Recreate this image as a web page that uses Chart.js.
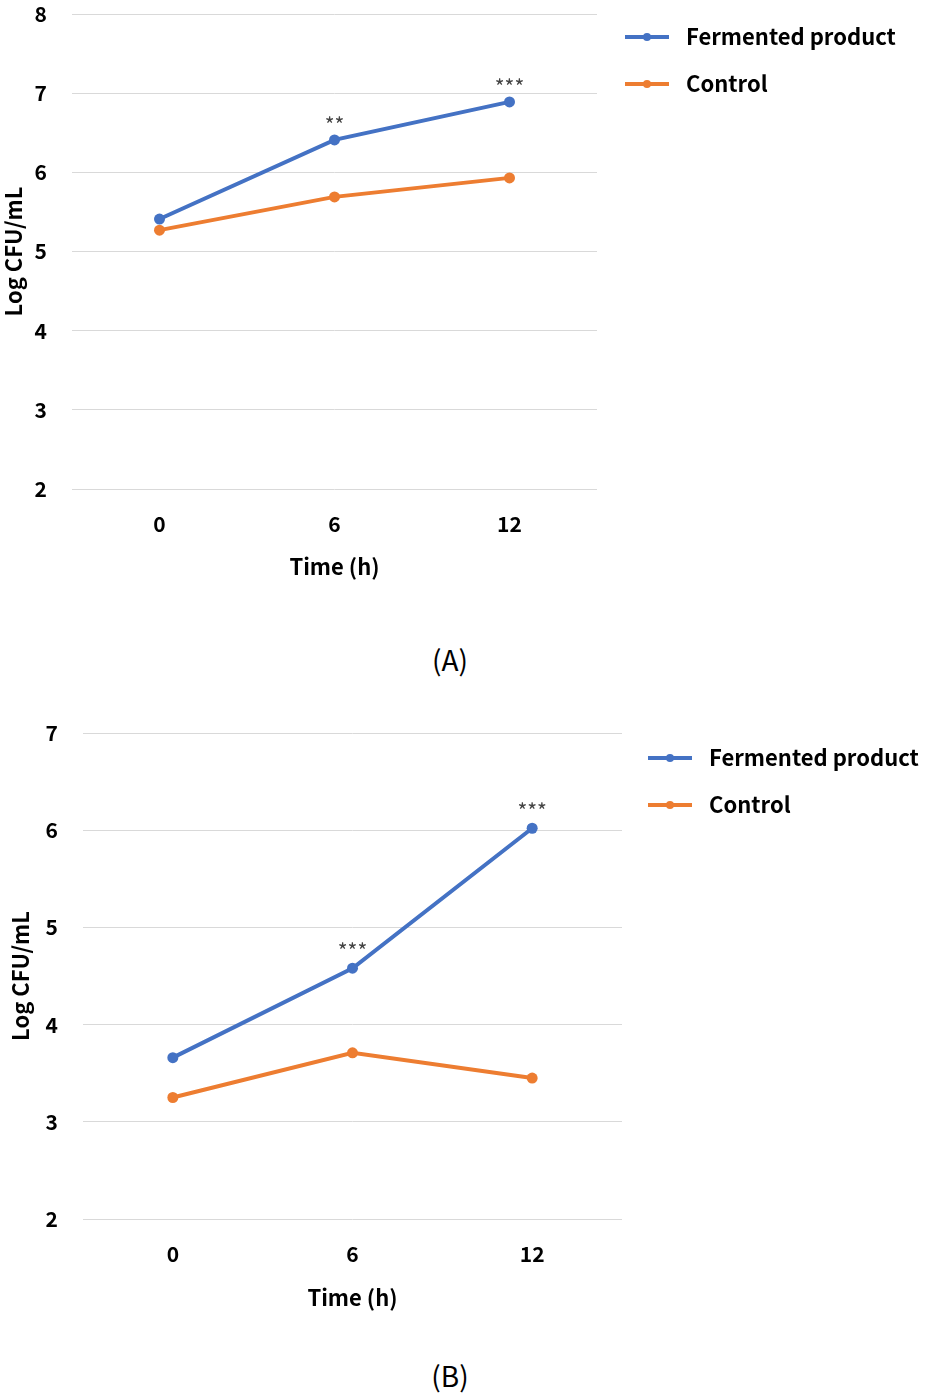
<!DOCTYPE html>
<html><head><meta charset="utf-8">
<script src="https://cdn.jsdelivr.net/npm/chart.js@4.4.1/dist/chart.umd.min.js"></script>
<style>
html,body{margin:0;padding:0;background:#fff;width:929px;height:1395px;overflow:hidden;}
.wrap{position:absolute;left:0;width:929px;}
.cap{position:absolute;left:0;width:900px;text-align:center;font:28px "Noto Sans CJK KR","Noto Sans",sans-serif;color:#000;line-height:34px;}
</style></head><body>
<div class="wrap" style="top:0;height:620px"><canvas id="cA" width="929" height="620"></canvas></div>
<div class="cap" style="top:642px">(A)</div>
<div class="wrap" style="top:700px;height:620px"><canvas id="cB" width="929" height="620"></canvas></div>
<div class="cap" style="top:1358px">(B)</div>
<script>
const timeLabels = ['0', '6', '12'];
const seriesNames = ['Fermented product', 'Control'];
const fermentedA = [5.41, 6.41, 6.89];
const controlA = [5.27, 5.69, 5.93];
const sigA = ['', '**', '***'];
const yRangeA = [2, 8];
const fermentedB = [3.66, 4.58, 6.02];
const controlB = [3.25, 3.71, 3.45];
const sigB = ['', '***', '***'];
const yRangeB = [2, 7];

const BLUE = '#4472C4', ORANGE = '#ED7D31';
const FONT = '"Noto Sans CJK KR", "Noto Sans", sans-serif';

const extras = {
  id: 'extras',
  afterDatasetsDraw(chart, args, opts) {
    const ctx = chart.ctx;
    ctx.save();
    const meta = chart.getDatasetMeta(0);
    ctx.font = '21px ' + FONT;
    ctx.fillStyle = '#444444';
    ctx.textAlign = 'center';
    ctx.textBaseline = 'middle';
    opts.sig.forEach((s, i) => {
      if (!s) return;
      const p = meta.data[i];
      ctx.fillText(s, p.x, p.y - opts.sigOffset);
    });
    chart.data.datasets.forEach((ds, i) => {
      const y = opts.legendY + i * opts.legendGap;
      const x = opts.legendX;
      ctx.strokeStyle = ds.borderColor;
      ctx.lineWidth = 4;
      ctx.beginPath(); ctx.moveTo(x, y); ctx.lineTo(x + 44, y); ctx.stroke();
      ctx.fillStyle = ds.borderColor;
      ctx.beginPath(); ctx.arc(x + 22, y, 4, 0, Math.PI * 2); ctx.fill();
      ctx.fillStyle = '#000';
      ctx.font = 'bold 22px ' + FONT;
      ctx.textAlign = 'left';
      ctx.fillText(ds.label, x + 61, y);
    });
    ctx.restore();
  }
};

function makeChart(id, f, c, sig, yr, geo) {
  return new Chart(document.getElementById(id), {
    type: 'line',
    data: {
      labels: timeLabels,
      datasets: [
        { label: seriesNames[0], data: f, borderColor: BLUE, backgroundColor: BLUE, borderWidth: 4, pointRadius: 5.5, pointBackgroundColor: BLUE, pointBorderWidth: 0, tension: 0 },
        { label: seriesNames[1], data: c, borderColor: ORANGE, backgroundColor: ORANGE, borderWidth: 4, pointRadius: 5.5, pointBackgroundColor: ORANGE, pointBorderWidth: 0, tension: 0 }
      ]
    },
    options: {
      responsive: false,
      animation: false,
      layout: { padding: { top: geo.top, right: 929 - geo.right, left: 0, bottom: 0 } },
      plugins: {
        legend: { display: false },
        tooltip: { enabled: false },
        extras: { sig: sig, sigOffset: geo.sigOffset, legendX: geo.legendX, legendY: geo.legendY, legendGap: 47 }
      },
      scales: {
        x: {
          type: 'category',
          offset: true,
          grid: { display: false, drawTicks: false },
          border: { display: false },
          ticks: { color: '#000', font: { family: FONT, size: 21, weight: 'bold' }, padding: 22 },
          title: { display: true, text: 'Time (h)', color: '#000', font: { family: FONT, size: 22, weight: 'bold' }, padding: { top: 0, bottom: geo.xTitlePad } },
          afterFit(s) { s.height = 620 - geo.bottom; }
        },
        y: {
          min: yr[0], max: yr[1],
          grid: { color: '#d9d9d9', lineWidth: 1, drawTicks: true, tickLength: geo.yTickPad, tickColor: 'rgba(0,0,0,0)' },
          border: { display: false },
          ticks: { stepSize: 1, color: '#000', font: { family: FONT, size: 21, weight: 'bold' }, padding: 0 },
          title: { display: true, text: 'Log CFU/mL', color: '#000', font: { family: FONT, size: 22, weight: 'bold' }, padding: { top: geo.yTitlePad, bottom: 0 } },
          afterFit(s) { s.width = geo.left; }
        }
      }
    },
    plugins: [extras]
  });
}

makeChart('cA', fermentedA, controlA, sigA, yRangeA,
  { top: 14, bottom: 489, left: 72, right: 597, xTitlePad: 40, yTickPad: 25, yTitlePad: 0, sigOffset: 15, legendX: 625, legendY: 37 });
makeChart('cB', fermentedB, controlB, sigB, yRangeB,
  { top: 33, bottom: 519, left: 83, right: 622, xTitlePad: 9, yTickPad: 25, yTitlePad: 7, sigOffset: 17, legendX: 648, legendY: 58 });
</script>
</body></html>
